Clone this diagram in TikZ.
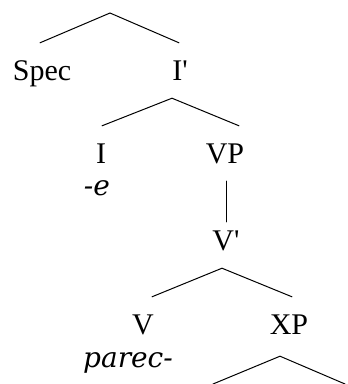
\documentclass[tikz,border=0pt]{standalone}
\usepackage{fontspec}
\setmainfont{Liberation Serif}
\newfontfamily\glossfont{DejaVu Serif}

\begin{document}
\begin{tikzpicture}[x=1pt, y=-1pt,
  cat/.style={anchor=base, font=\fontsize{30}{34}\selectfont,
    text height=19pt, text depth=0pt, inner xsep=2pt, inner ysep=18pt},
  gloss/.style={anchor=base, font=\glossfont\itshape\fontsize{28}{32}\selectfont,
    inner sep=0pt},
  branch/.style={line width=1pt, line cap=round}
]
\useasboundingbox (0,0) rectangle (348,384);

% IP level
\coordinate (ip) at (110,13);
\node[cat] (spec) at (42,80)  {Spec};
\node[cat] (ibar) at (180,80) {I\textquotesingle};
% I' level
\node[cat] (i)  at (101,163) {I};
\node[cat] (vp) at (225,163) {VP};
\node[gloss] (infl) at (97,195) {-e};
% VP level
\node[cat] (vbar) at (226,250) {V\textquotesingle};
% V' level
\node[cat] (v)  at (143,334) {V};
\node[cat] (xp) at (289,334) {XP};
\node[gloss] (verb) at (128,367) {parec-};
\coordinate (xpl) at (213,384);
\coordinate (xpr) at (345,384);

% branches
\draw[branch] ([xshift=-2pt]spec.north) -- (ip) -- ([xshift=-1pt]ibar.north);
\draw[branch] ([xshift=1pt]i.north) -- ([xshift=-8pt]ibar.south) -- ([xshift=14pt]vp.north);
\draw[branch, shorten >=-9pt] ([xshift=1pt]vp.south) -- ([xshift=1pt]vp.south |- vbar.north);
\draw[branch] ([xshift=9pt]v.north) -- ([xshift=-4pt]vbar.south) -- ([xshift=3pt]xp.north);
\draw[branch] (xpl) -- ([xshift=-9pt,yshift=-4pt]xp.south) -- (xpr);
\draw[gray!40, line width=1pt] (xpl) -- (xpr);
\end{tikzpicture}
\end{document}
